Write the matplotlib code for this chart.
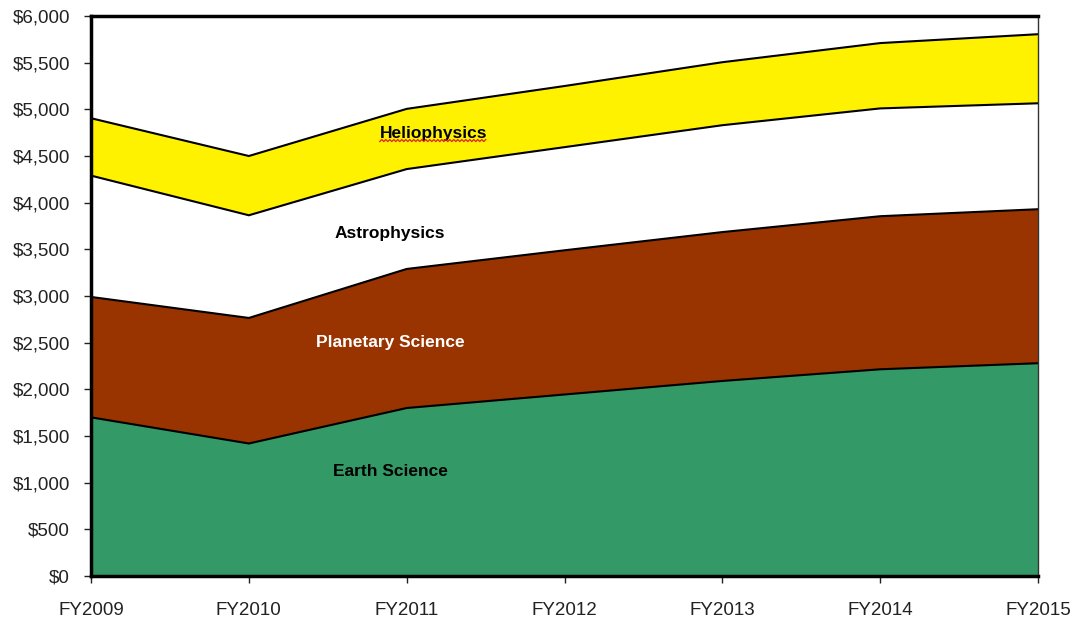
import numpy as np
import matplotlib.pyplot as plt
from matplotlib.ticker import FuncFormatter
from matplotlib.lines import Line2D

years = ["FY2009", "FY2010", "FY2011", "FY2012", "FY2013", "FY2014", "FY2015"]
earth = [1700, 1420, 1800, 1945, 2090, 2215, 2280]
planetary = [1290, 1345, 1490, 1545, 1595, 1640, 1650]
astro = [1300, 1100, 1070, 1105, 1145, 1155, 1135]
helio = [615, 635, 645, 655, 675, 700, 740]

colors = ["#339966", "#993300", "#FFFFFF", "#FFF200"]

plt.rcParams['font.family'] = ['Liberation Sans', 'DejaVu Sans']

fig = plt.figure(figsize=(10.76, 6.23), dpi=100)
ax = fig.add_axes([0.0846, 0.0754, 0.8801, 0.8989])

x = np.arange(len(years))
layers = [earth, planetary, astro, helio]
ax.stackplot(x, *layers, colors=colors, linewidth=0)
tops = np.cumsum(layers, axis=0)
for t in tops:
    ax.plot(x, t, color="black", linewidth=1.5, solid_joinstyle="miter")

ax.set_xlim(0, len(years) - 1)
ax.set_ylim(0, 6000)
ax.set_xticks(x)
ax.set_xticklabels(years)
ax.set_yticks(np.arange(0, 6001, 500))
ax.yaxis.set_major_formatter(FuncFormatter(lambda v, p: "${:,.0f}".format(v)))
ax.tick_params(axis="both", direction="out", length=5, width=1, labelsize=13.5, colors="#222222")
ax.tick_params(axis="x", pad=14)
ax.tick_params(axis="y", pad=10)

for s in ["left", "bottom", "top"]:
    ax.spines[s].set_linewidth(2.5)
    ax.spines[s].set_color("black")
ax.spines["right"].set_linewidth(1)
ax.spines["right"].set_color("#333333")

lab = dict(fontsize=12.5, fontweight="bold", ha="center", va="center",
           family=['Liberation Sans Narrow', 'Liberation Sans', 'DejaVu Sans'])
helio_txt = ax.text(2.17, 4746, "Heliophysics", color="black", **lab)
ax.text(1.895, 3675, "Astrophysics", color="black", **lab)
ax.text(1.895, 2507, "Planetary Science", color="white", **lab)
ax.text(1.895, 1125, "Earth Science", color="black", **lab)

# spell-check squiggle under "Heliophysics"
fig.canvas.draw()
bb = helio_txt.get_window_extent()
zx = np.arange(bb.x0, bb.x1 + 0.1, 2.0)
zy = bb.y0 - 1 + np.where(np.arange(len(zx)) % 2 == 0, 0, 2.0)
fig.add_artist(Line2D(zx, zy, transform=None, color="#E02020", linewidth=0.9))

fig.savefig("out.png", dpi=100)
